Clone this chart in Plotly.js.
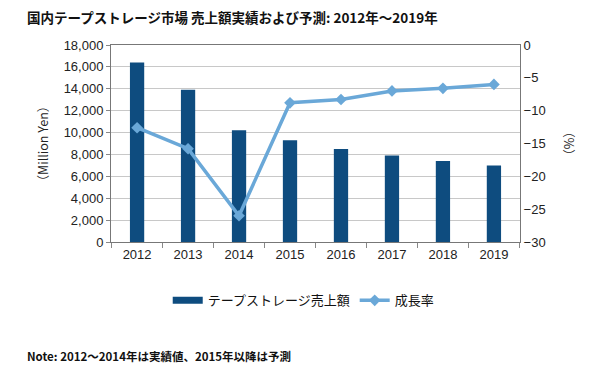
<!DOCTYPE html>
<html><head><meta charset="utf-8">
<script src="https://cdn.plot.ly/plotly-3.0.1.min.js"></script>
<style>html,body{margin:0;padding:0;background:#fff}#chart{width:600px;height:370px}</style>
</head><body><div id="chart"></div>
<script>
const years = ['2012','2013','2014','2015','2016','2017','2018','2019'];
const sales = [16400, 13900, 10200, 9300, 8500, 7900, 7400, 7000];
const growth = [-12.6, -15.8, -26.0, -8.8, -8.3, -7.0, -6.6, -6.0];
const leftTicks = [0,2000,4000,6000,8000,10000,12000,14000,16000,18000];
const rightTicks = [0,-5,-10,-15,-20,-25,-30];
const salesName = 'テープストレージ売上額';
const growthName = '成長率';

const F = '"Liberation Sans", Arial, sans-serif';
const J = '"Noto Sans CJK JP", sans-serif';
const navy = '#0E4C7F';
const light = '#6AA8D8';

const data = [
  {type:'bar', x:years, y:sales, name:salesName, marker:{color:navy}, yaxis:'y', showlegend:false},
  {type:'scatter', mode:'lines', x:[null], y:[null], name:salesName, yaxis:'y',
   line:{color:navy, width:7}, showlegend:true, hoverinfo:'skip'},
  {type:'scatter', mode:'lines+markers', x:years, y:growth, name:growthName, yaxis:'y2',
   line:{color:light, width:3.5}, marker:{symbol:'diamond', size:9, color:light}}
];
const layout = {
  width:600, height:370, margin:{l:111, r:80, t:45, b:128},
  paper_bgcolor:'#fff', plot_bgcolor:'#fff',
  bargap:0.72, showlegend:true,
  font:{family:F, size:12, color:'#222'},
  legend:{orientation:'h', x:0.47, xanchor:'center', y:-0.22, yanchor:'top', font:{family:J, size:13, color:'#111'}, itemwidth:30, tracegroupgap:0},
  xaxis:{type:'category', ticks:'outside', tickson:'boundaries', ticklen:5, tickcolor:'#888',
    showline:true, linecolor:'#777', mirror:true, tickfont:{size:13, color:'#222'}, showgrid:false},
  yaxis:{range:[0,18000], tickvals:leftTicks, ticktext:leftTicks.map(v=>v.toLocaleString('en-US')),
    gridcolor:'#c8c8c8', showline:true, linecolor:'#777', ticks:'outside', ticklen:4, tickcolor:'#888',
    tickfont:{size:13, color:'#222'},
    title:{text:'（Million Yen）', font:{family:J, size:12.5, color:'#222'}, standoff:12}},
  yaxis2:{overlaying:'y', side:'right', range:[-30,0], tickvals:rightTicks, ticktext:rightTicks.map(v=>v<0?'−'+(-v):String(v)),
    showgrid:false, showline:true, linecolor:'#777', ticks:'', tickfont:{size:13, color:'#222'},
    title:{text:'（%）', font:{family:J, size:12.5, color:'#222'}, standoff:20}},
  annotations:[
    {text:'<b>国内テープストレージ市場 売上額実績および予測: 2012年～2019年</b>', xref:'paper', yref:'paper', x:-0.21, y:1.14, xanchor:'left', yanchor:'middle',
     showarrow:false, font:{family:J, size:13.5, color:'#111'}},
    {text:'<b>Note: 2012～2014年は実績値、2015年以降は予測</b>', xref:'paper', yref:'paper', x:-0.21, y:-0.58, xanchor:'left', yanchor:'middle',
     showarrow:false, font:{family:J, size:11.5, color:'#111'}}
  ]
};
Plotly.newPlot('chart', data, layout, {displayModeBar:false, staticPlot:true});
</script></body></html>
